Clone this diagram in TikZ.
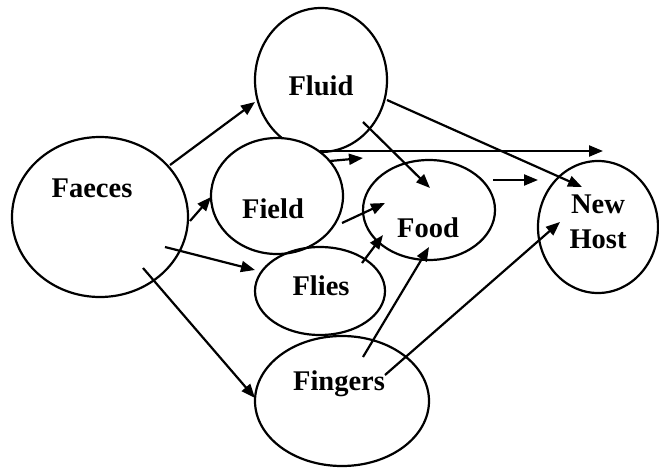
\documentclass[tikz,border=0pt]{standalone}
\usepackage{fontspec}
\setmainfont{Liberation Serif}
\usetikzlibrary{arrows.meta,calc,shapes.geometric}
\begin{document}
\begin{tikzpicture}[x=1pt,y=-1pt,
  ell/.style={draw, ellipse, line width=2.2pt, inner sep=0pt},
  arr/.style={line width=2.2pt, -{Triangle[length=14pt,width=11pt]}},
  lbl/.style={font=\fontsize{28.5}{34}\selectfont\bfseries, inner sep=0pt, anchor=base}]
\useasboundingbox (0,0) rectangle (659,469);
% ellipses
\node[ell, minimum width=176pt, minimum height=160pt] (faeces) at (100,217) {};
\node[ell, minimum width=132pt, minimum height=144pt] (fluid) at (321,80) {};
\node[ell, fill=white, minimum width=132pt, minimum height=116pt] (field) at (277,196) {};
\node[ell, minimum width=132pt, minimum height=100pt] (food) at (429,210) {};
\node[ell, minimum width=120pt, minimum height=132pt] (host) at (598,227) {};
\node[ell, minimum width=130pt, minimum height=88pt] (flies) at (320,291) {};
\node[ell, minimum width=174pt, minimum height=130pt] (fingers) at (342,401) {};
% labels
\node[lbl] (faecesT) at (92,197) {Faeces};
\node[lbl] (fluidT) at (321,95) {Fluid};
\node[lbl] (fieldT) at (273,218) {Field};
\node[lbl] (foodT) at (428,237) {Food};
\node[lbl] (fliesT) at (321,295) {Flies};
\node[lbl] (fingersT) at (339,390) {Fingers};
\node[lbl] (hostT1) at (598,213) {New};
\node[lbl] (hostT2) at (598,248) {Host};
\coordinate (farend) at (603,151);
% arrows
\draw[arr] ($(faeces.center)+(70,-52)$) -- ($(fluid.center)+(-66,22)$);
\draw[arr] ($(faeces.center)+(90,4)$) -- ($(field.center)+(-66,1)$);
\draw[arr] ($(faeces.center)+(65,30)$) -- ($(flies.center)+(-65,-21)$);
\draw[arr] ($(faeces.center)+(43,51)$) -- ($(fingers.center)+(-87,-3)$);
\draw[arr] ($(field.center)+(43,-45)$) -- (farend);
\draw[arr] ($(field.center)+(53,-35)$) -- ($(food.center)+(-66,-52)$);
\draw[arr] ($(fluid.center)+(42,42)$) -- ($(food.center)+(1,-22)$);
\draw[arr] ($(fluid.center)+(66,20)$) -- ($(host.center)+(-16,-40)$);
\draw[arr] ($(food.center)+(64,-30)$) -- ($(host.center)+(-60,-47)$);
\draw[arr] ($(field.center)+(65,27)$) -- ($(food.center)+(-44,-7)$);
\draw[arr] ($(flies.center)+(42,-28)$) -- ($(food.center)+(-46,25)$);
\draw[arr] ($(fingers.center)+(21,-44)$) -- ($(food.center)+(0,37)$);
\draw[arr] ($(fingers.center)+(43,-26)$) -- ($(host.center)+(-38,-5)$);
\end{tikzpicture}
\end{document}
